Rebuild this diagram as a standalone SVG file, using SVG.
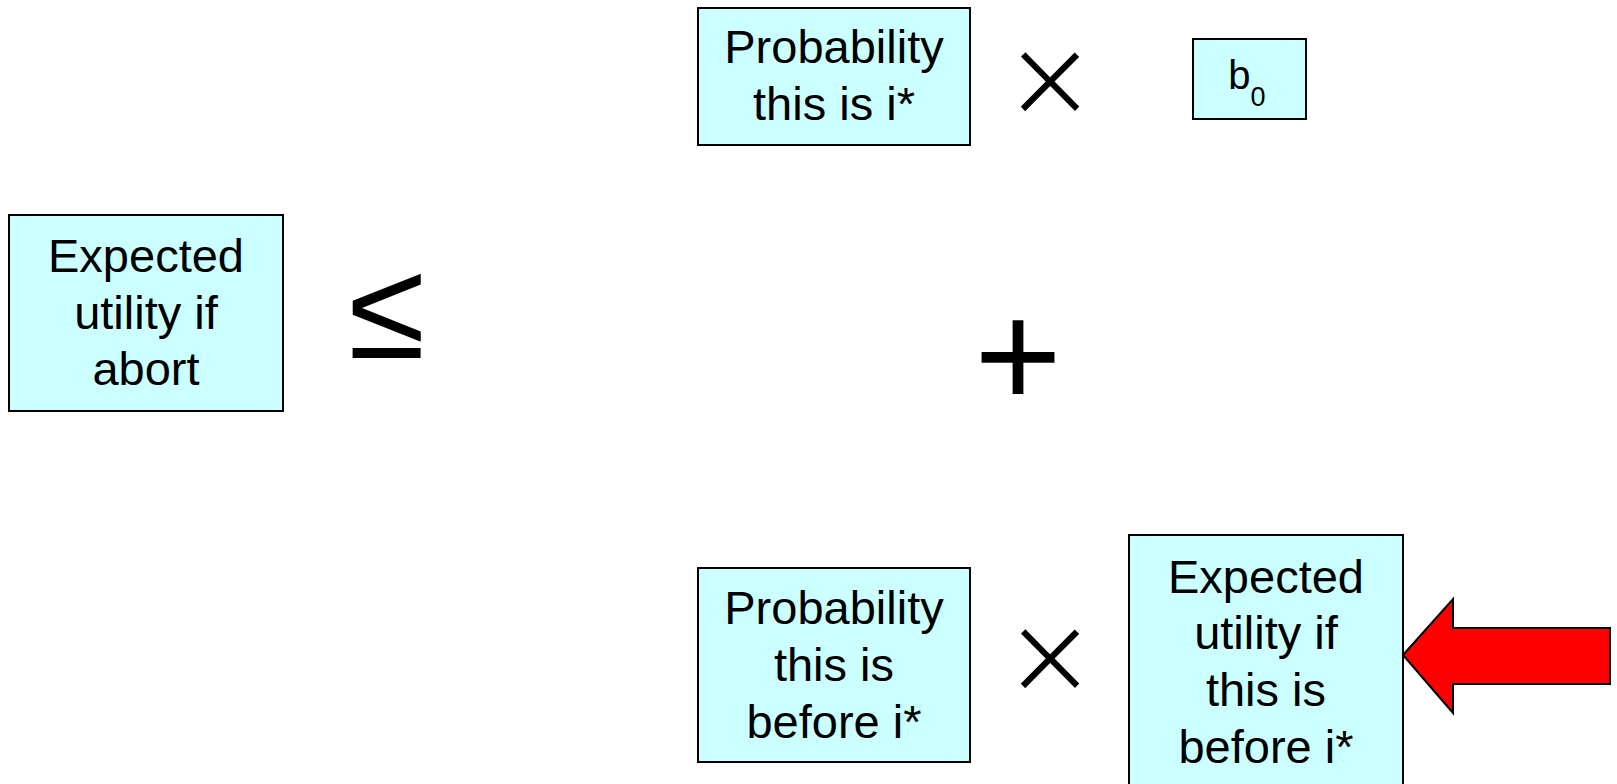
<svg xmlns="http://www.w3.org/2000/svg" width="1617" height="784" viewBox="0 0 1617 784">
<style>
.box{fill:#CCFFFF;stroke:#000;stroke-width:2}
.t{font-family:"Liberation Sans",Arial,sans-serif;font-size:47px;fill:#000;text-anchor:middle}
.op{font-family:"Liberation Sans",Arial,sans-serif;fill:#000;text-anchor:middle}
.x{stroke:#fff;stroke-width:4}
</style>
<rect width="1617" height="784" fill="#fff"/>
<g id="node-prob-istar">
<rect class="box" x="698" y="8" width="272" height="137"/>
<text class="t" x="834" y="63">Probability</text>
<text class="t" x="834" y="120">this is i*</text>
</g>
<g id="node-b0">
<rect class="box" x="1193" y="39" width="113" height="80"/>
<text class="t" x="1247" y="89" style="font-size:40px">b<tspan style="font-size:27px" dy="17">0</tspan></text>
</g>
<g id="node-eu-abort">
<rect class="box" x="9" y="215" width="274" height="196"/>
<text class="t" x="146" y="272">Expected</text>
<text class="t" x="146" y="329">utility if</text>
<text class="t" x="146" y="385">abort</text>
</g>
<g id="node-prob-before">
<rect class="box" x="698" y="568" width="272" height="194"/>
<text class="t" x="834" y="624">Probability</text>
<text class="t" x="834" y="681">this is</text>
<text class="t" x="834" y="738">before i*</text>
</g>
<g id="node-eu-before">
<rect class="box" x="1129" y="535" width="274" height="260"/>
<text class="t" x="1266" y="593">Expected</text>
<text class="t" x="1266" y="649">utility if</text>
<text class="t" x="1266" y="706">this is</text>
<text class="t" x="1266" y="763">before i*</text>
</g>
<g id="operators">
<text class="op" x="387" y="358" style="font-size:140px">≤</text>
<text class="op" x="1018" y="407" style="font-size:150px">+</text>
<text class="op x" x="1050" y="130" style="font-size:144px">×</text>
<text class="op x" x="1050" y="707" style="font-size:144px">×</text>
</g>
<g id="connectors">
<path id="red-arrow" d="M1403,655 L1453,599 L1453,628 L1610,628 L1610,684 L1453,684 L1453,713 Z" fill="#FF0000" stroke="#000" stroke-width="2" stroke-linejoin="miter"/>
</g>
</svg>
